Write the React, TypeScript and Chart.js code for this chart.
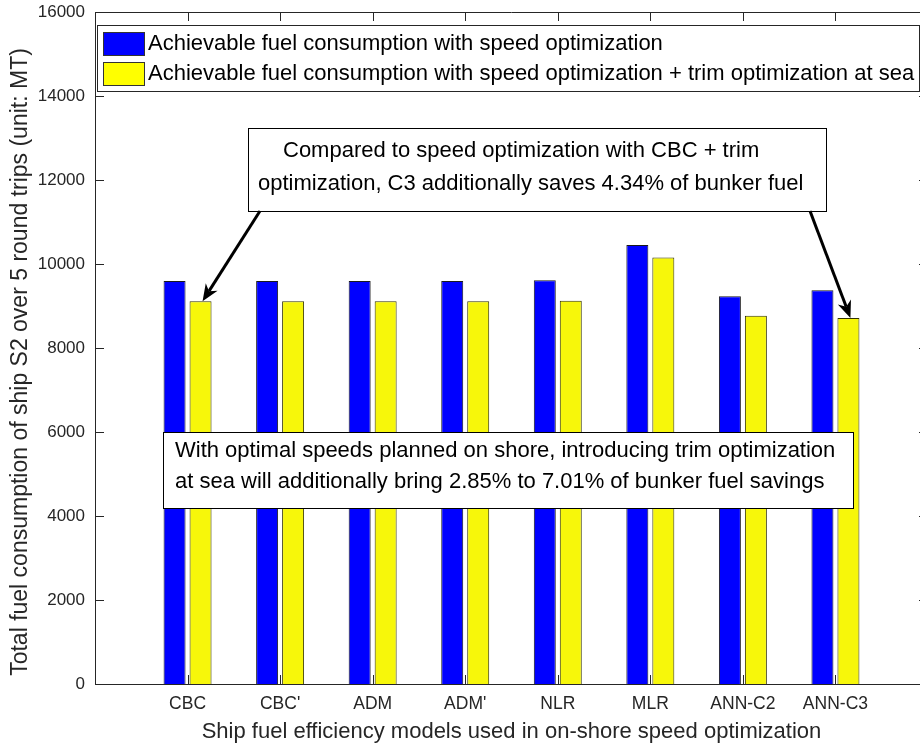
import React, { useEffect, useRef } from "react";
import { Chart, registerables } from "chart.js";

Chart.register(...registerables);

// Fuel efficiency models used for on-shore speed optimization
const models = ["CBC", "CBC'", "ADM", "ADM'", "NLR", "MLR", "ANN-C2", "ANN-C3"];

// Total fuel consumption of ship S2 over 5 round trips (MT)
const speedOptFuel = [9595, 9595, 9595, 9595, 9612, 10452, 9231, 9374];
const speedTrimOptFuel = [9112, 9112, 9112, 9112, 9125, 10154, 8769, 8717];

const seriesNames = [
  "Achievable fuel consumption with speed optimization",
  "Achievable fuel consumption with speed optimization + trim optimization at sea",
];

const yMin = 0;
const yMax = 16000;
const yStep = 2000;

const noteTop = [
  "Compared to speed optimization with CBC + trim",
  "optimization, C3 additionally saves 4.34% of bunker fuel",
];
const noteBottom = [
  "With optimal speeds planned on shore, introducing trim optimization",
  "at sea will additionally bring 2.85% to 7.01% of bunker fuel savings",
];

const xTitle = "Ship fuel efficiency models used in on-shore speed optimization";
const yTitle = "Total fuel consumption of ship S2 over 5 round trips (unit: MT)";

const FONT = "'Liberation Sans', Arial, Helvetica, sans-serif";
const AXIS = "#262626";
const BLUE = "#0000ff";
const YELLOW = "#f7f70a";
const YELLOW_KEY = "#ffff00";

function arrow(ctx: CanvasRenderingContext2D, x0: number, y0: number, x1: number, y1: number) {
  const ang = Math.atan2(y1 - y0, x1 - x0);
  const len = 17;
  const half = 7;
  const back = 12;
  const cos = Math.cos(ang);
  const sin = Math.sin(ang);
  const bx = x1 - back * cos;
  const by = y1 - back * sin;
  ctx.save();
  ctx.strokeStyle = "#000";
  ctx.fillStyle = "#000";
  ctx.lineWidth = 3;
  ctx.lineCap = "butt";
  ctx.beginPath();
  ctx.moveTo(x0, y0);
  ctx.lineTo(bx, by);
  ctx.stroke();
  const wx = x1 - len * cos;
  const wy = y1 - len * sin;
  ctx.beginPath();
  ctx.moveTo(x1, y1);
  ctx.lineTo(wx - half * sin, wy + half * cos);
  ctx.lineTo(bx, by);
  ctx.lineTo(wx + half * sin, wy - half * cos);
  ctx.closePath();
  ctx.fill();
  ctx.restore();
}

function noteBox(
  ctx: CanvasRenderingContext2D,
  x: number,
  y: number,
  w: number,
  h: number,
  lines: string[],
  starts: number[],
  ys: number[]
) {
  ctx.save();
  ctx.fillStyle = "#fff";
  ctx.fillRect(x, y, w, h);
  ctx.strokeStyle = "#000";
  ctx.lineWidth = 1;
  ctx.strokeRect(x + 0.5, y + 0.5, w, h);
  ctx.fillStyle = "#000";
  ctx.font = `22px ${FONT}`;
  ctx.textAlign = "left";
  ctx.textBaseline = "middle";
  lines.forEach((t, i) => ctx.fillText(t, starts[i], ys[i]));
  ctx.restore();
}

const overlay = {
  id: "overlay",
  afterDraw(chart: any) {
    const ctx: CanvasRenderingContext2D = chart.ctx;
    const { left, right, top, bottom } = chart.chartArea;
    const xs = chart.scales.x;
    const ys = chart.scales.y;

    ctx.save();
    ctx.strokeStyle = AXIS;
    ctx.lineWidth = 1;
    // box edges
    ctx.beginPath();
    ctx.moveTo(left, Math.round(top) + 0.5);
    ctx.lineTo(right, Math.round(top) + 0.5);
    ctx.moveTo(Math.round(right) - 0.5, top);
    ctx.lineTo(Math.round(right) - 0.5, bottom);
    ctx.stroke();

    // inward tick marks
    ctx.beginPath();
    for (let v = yMin; v <= yMax; v += yStep) {
      const py = Math.round(ys.getPixelForValue(v)) + 0.5;
      ctx.moveTo(left, py);
      ctx.lineTo(left + 9, py);
      ctx.moveTo(right, py);
      ctx.lineTo(right - 9, py);
    }
    models.forEach((_, i) => {
      const px = Math.round(xs.getPixelForValue(i + 1)) + 0.5;
      ctx.moveTo(px, bottom);
      ctx.lineTo(px, bottom - 9);
      ctx.moveTo(px, top);
      ctx.lineTo(px, top + 9);
    });
    ctx.stroke();
    ctx.restore();

    // y-axis title
    ctx.save();
    ctx.translate(21, 362);
    ctx.rotate(-Math.PI / 2);
    ctx.fillStyle = AXIS;
    ctx.font = `23px ${FONT}`;
    ctx.textAlign = "center";
    ctx.textBaseline = "middle";
    ctx.fillText(yTitle, 0, 0);
    ctx.restore();

    // legend
    ctx.save();
    ctx.fillStyle = "#fff";
    ctx.fillRect(97, 25, 822, 66);
    ctx.strokeStyle = AXIS;
    ctx.strokeRect(97.5, 25.5, 822, 66);
    const keyColors = [BLUE, YELLOW_KEY];
    const keyY = [32, 62];
    ctx.font = `22px ${FONT}`;
    ctx.textBaseline = "middle";
    ctx.textAlign = "left";
    seriesNames.forEach((name, i) => {
      ctx.fillStyle = keyColors[i];
      ctx.fillRect(103, keyY[i], 41, 23);
      ctx.strokeStyle = "#333";
      ctx.strokeRect(103.5, keyY[i] + 0.5, 41, 23);
      ctx.fillStyle = "#000";
      ctx.fillText(name, 148, keyY[i] + 12);
    });
    ctx.restore();

    // callout on CBC vs ANN-C3
    noteBox(ctx, 248, 128, 578, 83, noteTop, [283, 258], [151, 184]);
    const bars = chart.getDatasetMeta(1).data;
    const first = bars[0];
    const last = bars[bars.length - 1];
    arrow(ctx, 260, 211, first.x + 2, first.y);
    arrow(ctx, 810, 211, last.x + 2, last.y);

    // summary box
    noteBox(ctx, 163, 432, 690, 76, noteBottom, [175, 175], [451, 482]);
  },
};

export default function App() {
  const ref = useRef<HTMLCanvasElement>(null);

  useEffect(() => {
    const canvas = ref.current;
    if (!canvas) return;
    const yTicks: number[] = [];
    for (let v = yMin; v <= yMax; v += yStep) yTicks.push(v);

    const chart = new Chart(canvas, {
      type: "bar",
      data: {
        datasets: [
          {
            label: seriesNames[0],
            data: models.map((_, i) => ({ x: i + 1, y: speedOptFuel[i] })),
            backgroundColor: BLUE,
            borderColor: "#1a1a1a",
            borderWidth: 1,
            barPercentage: 0.846,
            categoryPercentage: 0.5615,
          },
          {
            label: seriesNames[1],
            data: models.map((_, i) => ({ x: i + 1, y: speedTrimOptFuel[i] })),
            backgroundColor: YELLOW,
            borderColor: "#333300",
            borderWidth: 1,
            barPercentage: 0.846,
            categoryPercentage: 0.5615,
          },
        ],
      } as any,
      options: {
        responsive: false,
        animation: false,
        devicePixelRatio: 1,
        layout: { padding: { left: 0, top: 12, right: 12, bottom: 0 } },
        plugins: {
          legend: { display: false },
          tooltip: { enabled: false },
        },
        scales: {
          x: {
            type: "linear",
            offset: false,
            min: 0,
            max: models.length + 1,
            grid: { display: false, drawTicks: false, offset: false },
            border: { display: true, color: AXIS, width: 1 },
            afterBuildTicks: (scale: any) => {
              scale.ticks = models.map((_, i) => ({ value: i + 1 }));
            },
            afterFit: (scale: any) => {
              scale.height = 65;
              scale.paddingLeft = 0;
              scale.paddingRight = 0;
            },
            ticks: {
              autoSkip: false,
              maxRotation: 0,
              padding: 10,
              color: AXIS,
              font: { family: FONT, size: 17.5 },
              callback: (v: any) => models[Number(v) - 1] ?? "",
            },
            title: {
              display: true,
              text: xTitle,
              color: AXIS,
              font: { family: FONT, size: 22 },
              padding: { top: 0, bottom: 4 },
            },
          },
          y: {
            min: yMin,
            max: yMax,
            grid: { display: false, drawTicks: false },
            border: { display: true, color: AXIS, width: 1 },
            afterBuildTicks: (scale: any) => {
              scale.ticks = yTicks.map((v) => ({ value: v }));
            },
            afterFit: (scale: any) => {
              scale.width = 95;
              scale.paddingTop = 0;
              scale.paddingBottom = 0;
            },
            ticks: {
              padding: 10,
              color: AXIS,
              font: { family: FONT, size: 17 },
              callback: (v: any) => String(v),
            },
          },
        },
      } as any,
      plugins: [overlay],
    });

    return () => chart.destroy();
  }, []);

  return (
    <div
      style={{
        position: "fixed",
        left: 0,
        top: 0,
        width: 920,
        height: 749,
        overflow: "hidden",
        background: "#fff",
      }}
    >
      <canvas ref={ref} width={940} height={749} style={{ display: "block", width: 940, height: 749 }} />
    </div>
  );
}
